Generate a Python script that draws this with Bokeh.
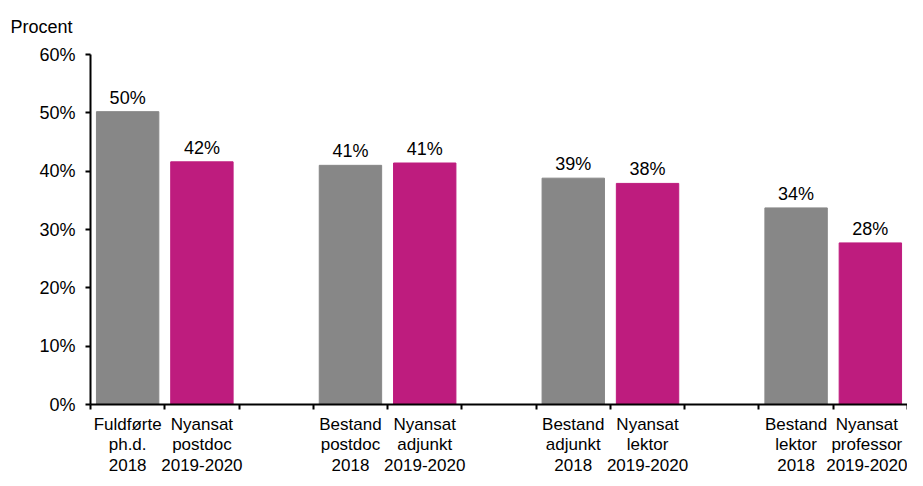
from bokeh.plotting import figure
from bokeh.models import FixedTicker, Range1d, ColumnDataSource
from bokeh.core.properties import value
from bokeh.embed import file_html
from bokeh.resources import INLINE

categories = [
    "Fuldførte\nph.d.\n2018", "Nyansat\npostdoc\n2019-2020",
    "Bestand\npostdoc\n2018", "Nyansat\nadjunkt\n2019-2020",
    "Bestand\nadjunkt\n2018", "Nyansat\nlektor\n2019-2020",
    "Bestand\nlektor\n2018", "Nyansat\nprofessor\n2019-2020",
]
values = [50.2, 41.6, 41.0, 41.4, 38.8, 37.9, 33.7, 27.7]
kinds = ["bestand", "nyansat"] * 4
y_ticks = [0, 10, 20, 30, 40, 50, 60]
y_tick_labels = ["0%", "10%", "20%", "30%", "40%", "50%", "60%"]
y_title = "Procent"

GRAY = "#878787"
MAGENTA = "#BE1C7E"
FONT = "Liberation Sans"
FS = "18px"
FS_CAT = "17px"

# slot layout: 4 groups of 2 bars with one empty slot between groups
xs = [(i // 2) * 3 + (i % 2) + 0.5 for i in range(len(categories))]
n_slots = (len(categories) // 2) * 3 - 1
colors = [GRAY if k == "bestand" else MAGENTA for k in kinds]
labels = [f"{v:.0f}%" for v in values]

src = ColumnDataSource(dict(x=xs, top=values, color=colors, label=labels))

p = figure(frame_width=817, frame_height=350, output_backend="svg", toolbar_location=None,
           x_range=Range1d(0, n_slots), y_range=Range1d(0, 60),
           min_border_left=90, min_border_right=0, min_border_top=54, min_border_bottom=66)

p.vbar(x="x", top="top", width=0.84, color="color", source=src)
p.text(x="x", y="top", text="label", source=src, text_align="center",
       text_baseline="alphabetic", y_offset=-14, text_font=value(FONT),
       text_font_size=FS, text_color="#000000")

p.title.text = y_title
p.title.align = "left"
p.title.vertical_align = "top"
p.title.offset = -80
p.title.text_font = FONT
p.title.text_font_size = FS
p.title.text_font_style = "normal"
p.title.text_color = "#000000"
p.title.standoff = 32

p.outline_line_color = None
p.xgrid.grid_line_color = None
p.ygrid.grid_line_color = None
p.background_fill_color = "white"
p.border_fill_color = "white"

ya = p.yaxis[0]
ya.ticker = FixedTicker(ticks=y_ticks, minor_ticks=[])
ya.major_label_overrides = {t: l for t, l in zip(y_ticks, y_tick_labels)}
ya.major_tick_out = 5
ya.major_tick_in = 0
ya.minor_tick_out = 0
ya.axis_line_width = 2
ya.major_tick_line_width = 2
ya.axis_line_color = "black"
ya.major_tick_line_color = "black"
ya.major_label_text_font = FONT
ya.major_label_text_font_size = FS
ya.major_label_text_color = "#000000"
ya.major_label_standoff = 10

xa = p.xaxis[0]
xa.ticker = FixedTicker(ticks=xs, minor_ticks=list(range(n_slots + 1)))
xa.major_label_overrides = {x: c for x, c in zip(xs, categories)}
xa.major_tick_out = 0
xa.major_tick_in = 0
xa.minor_tick_out = 5
xa.minor_tick_in = 0
xa.minor_tick_line_width = 2
xa.minor_tick_line_color = "black"
xa.axis_line_width = 2
xa.axis_line_color = "black"
xa.major_label_text_font = FONT
xa.major_label_text_font_size = FS_CAT
xa.major_label_text_color = "#000000"
xa.major_label_standoff = 5
xa.major_label_text_line_height = 1.1

open("out.html", "w").write(file_html(p, INLINE))
